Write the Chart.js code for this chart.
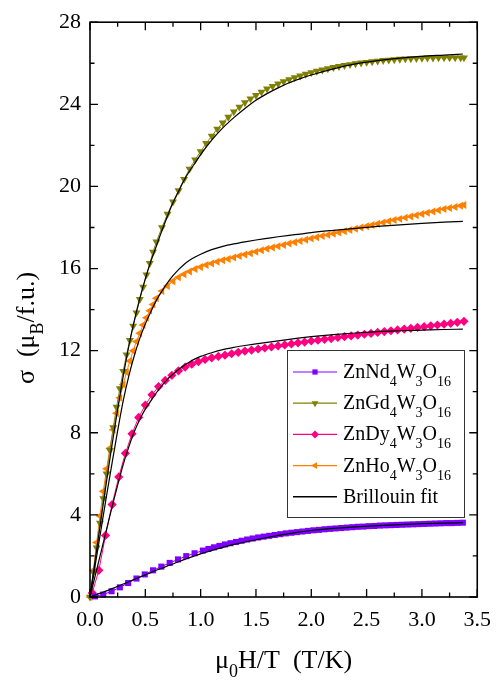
<!DOCTYPE html>
<html><head><meta charset="utf-8">
<script src="https://cdn.jsdelivr.net/npm/chart.js@4/dist/chart.umd.min.js"></script>
<style>html,body{margin:0;padding:0;background:#fff}#wrap{width:501px;height:682px}</style>
</head><body><div id="wrap"><canvas id="c" width="501" height="682"></canvas></div>
<script>
// ---- x grids ----
const gdHoX = [0,0.03,0.06,0.09,0.12,0.15,0.18,0.21,0.24,0.27,0.30,0.33,0.36,0.39,0.42,0.45,0.48,0.51,0.54,0.57,0.60,
 0.65,0.70,0.75,0.80,0.85,0.90,0.95,1.00,1.05,1.10,1.15,1.20,1.25,1.30,1.35,1.40,1.45,1.50,1.55,1.60,1.65,1.70,1.75,1.80,1.85,1.90,1.95,2.00,
 2.05,2.10,2.15,2.20,2.25,2.30,2.35,2.40,2.45,2.50,2.55,2.60,2.65,2.70,2.75,2.80,2.85,2.90,2.95,3.00,3.05,3.10,3.15,3.20,3.25,3.30,3.35,3.38];
const gdY = [0,1.2,2.4,3.6,4.8,6.0,7.15,8.25,9.25,10.15,11.0,11.8,12.5,13.2,13.85,14.5,15.1,15.7,16.25,16.8,17.3,
 18.0,18.65,19.25,19.8,20.35,20.85,21.3,21.7,22.1,22.45,22.8,23.1,23.38,23.64,23.87,24.08,24.27,24.44,24.6,24.75,24.88,25.0,25.11,25.21,25.3,25.39,25.47,25.55,
 25.62,25.68,25.74,25.8,25.85,25.9,25.94,25.98,26.02,26.05,26.08,26.11,26.14,26.16,26.18,26.2,26.22,26.23,26.24,26.25,26.26,26.26,26.27,26.27,26.27,26.27,26.27,26.27];
const hoY = [0,1.3,2.65,3.95,5.15,6.25,7.25,8.15,8.95,9.7,10.35,10.95,11.5,12.0,12.45,12.85,13.25,13.6,13.95,14.25,14.55,
 14.9,15.15,15.38,15.57,15.72,15.86,15.98,16.08,16.17,16.25,16.33,16.4,16.47,16.54,16.61,16.68,16.75,16.82,16.89,16.96,17.02,17.09,17.15,17.22,17.28,17.34,17.4,17.46,
 17.52,17.58,17.64,17.7,17.76,17.82,17.88,17.94,18.0,18.06,18.12,18.18,18.24,18.3,18.36,18.42,18.48,18.54,18.6,18.66,18.72,18.78,18.84,18.9,18.95,19.0,19.06,19.1];
const dyX = [0.02,0.08,0.14,0.20,0.26,0.32,0.38,0.44,0.50,0.56,0.62,0.68,0.74,0.80,0.86,0.92,0.98,1.04,1.10,1.16,1.22,1.28,1.34,1.40,1.46,1.52,1.58,1.64,1.70,1.76,
 1.82,1.88,1.94,2.00,2.06,2.12,2.18,2.24,2.30,2.36,2.42,2.48,2.54,2.60,2.66,2.72,2.78,2.84,2.90,2.96,3.02,3.08,3.14,3.20,3.26,3.32,3.38];
const dyY = [0.2,1.3,3.0,4.5,5.85,7.0,7.95,8.75,9.35,9.85,10.25,10.55,10.8,11.02,11.2,11.34,11.46,11.57,11.65,11.72,11.78,11.85,11.92,11.98,12.03,12.08,12.13,12.18,12.23,12.28,
 12.33,12.38,12.42,12.47,12.51,12.55,12.59,12.64,12.68,12.72,12.76,12.8,12.84,12.89,12.93,12.97,13.01,13.05,13.09,13.13,13.17,13.21,13.25,13.29,13.33,13.38,13.43];
const ndX = [0.045,0.12,0.195,0.27,0.345,0.42,0.495,0.57,0.645,0.72,0.795,0.87,0.945,1.02,
 1.07,1.12,1.17,1.22,1.27,1.32,1.37,1.42,1.47,1.52,1.57,1.62,1.67,1.72,1.77,1.82,1.87,1.92,1.97,2.02,2.07,2.12,2.17,2.22,2.27,2.32,2.37,2.42,2.47,2.52,
 2.57,2.62,2.67,2.72,2.77,2.82,2.87,2.92,2.97,3.02,3.07,3.12,3.17,3.22,3.27,3.32,3.37];
const ndY = [0.03,0.12,0.28,0.47,0.68,0.9,1.1,1.3,1.48,1.66,1.83,1.99,2.13,2.26,
 2.34,2.42,2.49,2.56,2.62,2.68,2.74,2.8,2.85,2.9,2.94,2.98,3.02,3.06,3.1,3.13,3.16,3.19,3.22,3.25,3.27,3.3,3.32,3.34,3.36,3.38,3.4,3.42,3.43,3.45,
 3.46,3.48,3.49,3.5,3.51,3.52,3.53,3.54,3.55,3.56,3.57,3.58,3.59,3.6,3.6,3.61,3.62];
// ---- Brillouin fits ----
const fitX = [0,0.05,0.1,0.15,0.2,0.25,0.3,0.35,0.4,0.45,0.5,0.55,0.6,0.65,0.7,0.75,0.8,0.85,0.9,0.95,1.0,
 1.1,1.2,1.3,1.4,1.5,1.6,1.7,1.8,1.9,2.0,2.2,2.4,2.6,2.8,3.0,3.2,3.37];
const ndFit = [0,0.1,0.2,0.3,0.41,0.52,0.63,0.74,0.86,0.97,1.08,1.19,1.3,1.4,1.51,1.61,1.72,1.82,1.92,2.01,2.1,
 2.27,2.42,2.56,2.68,2.79,2.9,3.0,3.09,3.17,3.24,3.34,3.42,3.48,3.53,3.57,3.6,3.62];
const gdFit = [0,1.9,3.8,5.65,7.45,9.15,10.75,12.2,13.45,14.55,15.5,16.35,17.1,17.85,18.55,19.2,19.75,20.3,20.75,21.15,21.55,
 22.25,22.85,23.35,23.8,24.2,24.52,24.8,25.05,25.25,25.43,25.73,25.97,26.13,26.25,26.34,26.4,26.45];
const dyFit = [0,1.1,2.2,3.3,4.4,5.45,6.45,7.3,8.05,8.65,9.15,9.55,9.95,10.3,10.6,10.85,11.08,11.28,11.45,11.6,11.72,
 11.9,12.05,12.16,12.25,12.33,12.4,12.48,12.55,12.62,12.68,12.78,12.86,12.93,12.97,13.0,13.03,13.05];
const hoFit = [0,1.65,3.3,4.95,6.55,8.1,9.55,10.75,11.75,12.6,13.3,13.9,14.45,14.9,15.3,15.65,15.95,16.2,16.4,16.56,16.7,
 16.92,17.08,17.2,17.3,17.39,17.47,17.55,17.62,17.68,17.75,17.86,17.96,18.05,18.13,18.2,18.26,18.3];
// ---- ticks / labels ----
const xTicks = [0,0.5,1.0,1.5,2.0,2.5,3.0,3.5];
const yTicks = [0,4,8,12,16,20,24,28];
const seriesNames = [
  [["ZnNd",0],["4",1],["W",0],["3",1],["O",0],["16",1]],
  [["ZnGd",0],["4",1],["W",0],["3",1],["O",0],["16",1]],
  [["ZnDy",0],["4",1],["W",0],["3",1],["O",0],["16",1]],
  [["ZnHo",0],["4",1],["W",0],["3",1],["O",0],["16",1]],
  [["Brillouin fit",0]]
];
const xTitle = [["\u03bc",0],["0",1],["H/T  (T/K)",0]];
const yTitle = [["\u03c3  (\u03bc",0],["B",1],["/f.u.)",0]];

const zip = (xs, ys) => xs.map((x, i) => ({x: x, y: ys[i]}));
const FONT = "'Liberation Serif', 'Times New Roman', serif";
const colors = ['#8000ff', '#808000', '#ff0080', '#ff8000', '#000000'];
const styles = [
  {pointStyle: 'rect', radius: 4.3, rotation: 0},
  {pointStyle: 'triangle', radius: 4.6, rotation: 180},
  {pointStyle: 'rectRot', radius: 4.6, rotation: 0},
  {pointStyle: 'triangle', radius: 4.6, rotation: -90}
];
function dataSet(i, pts) {
  return {label: 'd' + i, data: pts, showLine: true, borderColor: colors[i], backgroundColor: colors[i],
    borderWidth: 1, pointStyle: styles[i].pointStyle, pointRadius: styles[i].radius, pointRotation: styles[i].rotation,
    pointBorderWidth: 0, pointBackgroundColor: colors[i], clip: false, order: 2};
}
function fitSet(ys) {
  return {label: 'fit', data: zip(fitX, ys), showLine: true, borderColor: '#000', borderWidth: 1.2,
    pointRadius: 0, cubicInterpolationMode: 'monotone', order: 1, clip: false};
}

function drawParts(ctx, parts, x, y, size, subSize, subDrop, align) {
  let w = 0;
  parts.forEach(p => { ctx.font = (p[1] ? subSize : size) + 'px ' + FONT; w += ctx.measureText(p[0]).width; });
  let cx = align === 'center' ? x - w / 2 : x;
  ctx.textAlign = 'left'; ctx.textBaseline = 'alphabetic';
  parts.forEach(p => {
    ctx.font = (p[1] ? subSize : size) + 'px ' + FONT;
    ctx.fillText(p[0], cx, y + (p[1] ? subDrop : 0));
    cx += ctx.measureText(p[0]).width;
  });
}

const decor = {
  id: 'decor',
  afterDatasetsDraw(chart) {
    const ctx = chart.ctx, a = chart.chartArea, xs = chart.scales.x, ys = chart.scales.y;
    ctx.save();
    ctx.strokeStyle = '#000'; ctx.lineWidth = 1.3;
    const major = 8, minor = 4.5;
    const xt = xs.ticks.map(t => t.value);
    for (let i = 0; i < xt.length; i++) {
      const px = xs.getPixelForValue(xt[i]);
      ctx.beginPath(); ctx.moveTo(px, a.bottom); ctx.lineTo(px, a.bottom - major);
      ctx.moveTo(px, a.top); ctx.lineTo(px, a.top + major); ctx.stroke();
      if (i < xt.length - 1) {
        const mx = xs.getPixelForValue((xt[i] + xt[i + 1]) / 2);
        ctx.beginPath(); ctx.moveTo(mx, a.bottom); ctx.lineTo(mx, a.bottom - minor);
        ctx.moveTo(mx, a.top); ctx.lineTo(mx, a.top + minor); ctx.stroke();
      }
    }
    const yt = ys.ticks.map(t => t.value);
    for (let i = 0; i < yt.length; i++) {
      const py = ys.getPixelForValue(yt[i]);
      ctx.beginPath(); ctx.moveTo(a.left, py); ctx.lineTo(a.left + major, py);
      ctx.moveTo(a.right, py); ctx.lineTo(a.right - major, py); ctx.stroke();
      if (i < yt.length - 1) {
        const my = ys.getPixelForValue((yt[i] + yt[i + 1]) / 2);
        ctx.beginPath(); ctx.moveTo(a.left, my); ctx.lineTo(a.left + minor, my);
        ctx.moveTo(a.right, my); ctx.lineTo(a.right - minor, my); ctx.stroke();
      }
    }
    ctx.lineWidth = 1.6;
    ctx.strokeRect(a.left, a.top, a.right - a.left, a.bottom - a.top);
    ctx.restore();
  },
  afterDraw(chart) {
    const ctx = chart.ctx, a = chart.chartArea;
    ctx.save();
    ctx.fillStyle = '#000';
    // x title
    drawParts(ctx, xTitle, (a.left + a.right) / 2, 668, 26, 18, 9, 'center');
    // y title
    ctx.save();
    ctx.translate(34, 328); ctx.rotate(-Math.PI / 2);
    drawParts(ctx, yTitle, 0, 0, 26, 18, 9, 'center');
    ctx.restore();
    // legend
    const bx = 287, by = 350, bw = 177, bh = 167;
    ctx.fillStyle = '#fff'; ctx.fillRect(bx, by, bw, bh);
    ctx.strokeStyle = '#333'; ctx.lineWidth = 1; ctx.strokeRect(bx + 0.5, by + 0.5, bw, bh);
    for (let i = 0; i < seriesNames.length; i++) {
      const ry = 372 + i * 31.2;
      ctx.strokeStyle = colors[i]; ctx.lineWidth = i === 4 ? 1.5 : 1.2;
      ctx.beginPath(); ctx.moveTo(293, ry); ctx.lineTo(337, ry); ctx.stroke();
      if (i < 4) {
        ctx.fillStyle = colors[i];
        Chart.helpers.drawPoint(ctx, {pointStyle: styles[i].pointStyle, radius: styles[i].radius - 0.6, rotation: styles[i].rotation, borderWidth: 0}, 315, ry);
      }
      ctx.fillStyle = '#000';
      drawParts(ctx, seriesNames[i], 343, ry + 6, 20, 14, 8, 'left');
    }
    ctx.restore();
  }
};

new Chart(document.getElementById('c'), {
  type: 'scatter',
  data: {datasets: [
    dataSet(0, zip(ndX, ndY)), dataSet(1, zip(gdHoX, gdY)), dataSet(2, zip(dyX, dyY)), dataSet(3, zip(gdHoX, hoY)),
    fitSet(ndFit), fitSet(gdFit), fitSet(dyFit), fitSet(hoFit)
  ]},
  options: {
    responsive: false, animation: false, devicePixelRatio: 1,
    layout: {padding: {left: 0, top: 21, right: 18, bottom: 0}},
    plugins: {legend: {display: false}, tooltip: {enabled: false}},
    scales: {
      x: {type: 'linear', min: 0, max: 3.5,
        afterBuildTicks: s => { s.ticks = xTicks.map(v => ({value: v})); },
        afterFit: s => { s.height = 85; },
        grid: {display: false, drawTicks: false}, border: {display: false},
        ticks: {padding: 10, color: '#000', font: {family: FONT, size: 22}, callback: v => v.toFixed(1), maxRotation: 0}},
      y: {type: 'linear', min: 0, max: 28,
        afterBuildTicks: s => { s.ticks = yTicks.map(v => ({value: v})); },
        afterFit: s => { s.width = 90; },
        grid: {display: false, drawTicks: false}, border: {display: false},
        ticks: {padding: 9, color: '#000', font: {family: FONT, size: 22}, callback: v => String(v)}}
    }
  },
  plugins: [decor]
});
</script></body></html>
